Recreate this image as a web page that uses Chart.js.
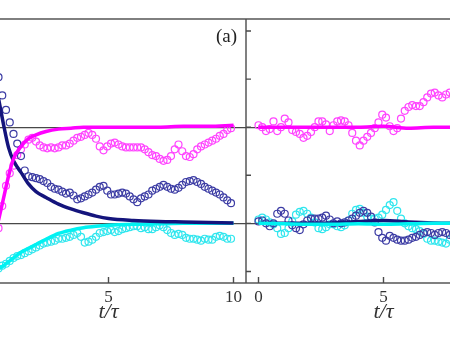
<!DOCTYPE html>
<html>
<head>
<meta charset="utf-8">
<script src="https://cdn.jsdelivr.net/npm/chart.js@4/dist/chart.umd.min.js"></script>
<style>
  html, body { margin: 0; padding: 0; background: #fff; }
  body { position: relative; width: 450px; height: 340px; overflow: hidden; }
  canvas { position: absolute; top: 0; }
</style>
</head>
<body>
<canvas id="panelLeft" width="275" height="340" style="left:-29px"></canvas>
<canvas id="panelRight" width="275" height="340" style="left:246px"></canvas>
<script>
// axis ticks / reference lines
const xTickVals = [0, 5, 10];
const yTickVals = [-0.5, 0, 0.5, 1, 1.5, 2];
const refLines  = [0, 1];

// left panel (a): sample times and measured points
const tLeft = [0.6, 0.75, 0.9, 1.05, 1.2, 1.35, 1.5, 1.65, 1.8, 1.95,
  2.1, 2.25, 2.4, 2.55, 2.7, 2.85, 3.0, 3.15, 3.3, 3.45,
  3.6, 3.75, 3.9, 4.05, 4.2, 4.35, 4.5, 4.65, 4.8, 4.95,
  5.1, 5.25, 5.4, 5.55, 5.7, 5.85, 6.0, 6.15, 6.3, 6.45,
  6.6, 6.75, 6.9, 7.05, 7.2, 7.35, 7.5, 7.65, 7.8, 7.95,
  8.1, 8.25, 8.4, 8.55, 8.7, 8.85, 9.0, 9.15, 9.3, 9.45,
  9.6, 9.75, 9.9];
const leftNavyPts = [1.52, 1.33, 1.18, 1.05, 0.93, 0.83, 0.70, 0.55, 0.49, 0.48,
  0.47, 0.46, 0.44, 0.42, 0.38, 0.36, 0.35, 0.33, 0.31, 0.32,
  0.29, 0.25, 0.26, 0.28, 0.30, 0.32, 0.35, 0.38, 0.39, 0.34,
  0.30, 0.30, 0.31, 0.32, 0.31, 0.28, 0.25, 0.22, 0.26, 0.28,
  0.30, 0.34, 0.36, 0.38, 0.40, 0.38, 0.36, 0.35, 0.37, 0.40,
  0.43, 0.44, 0.45, 0.43, 0.41, 0.38, 0.36, 0.34, 0.32, 0.30,
  0.27, 0.24, 0.21];
const leftMagentaPts = [-0.05, 0.18, 0.39, 0.52, 0.60, 0.71, 0.77, 0.82, 0.87, 0.89,
  0.85, 0.81, 0.79, 0.78, 0.79, 0.78, 0.79, 0.81, 0.81, 0.83,
  0.86, 0.89, 0.90, 0.92, 0.94, 0.92, 0.88, 0.80, 0.76, 0.80,
  0.83, 0.84, 0.82, 0.80, 0.79, 0.79, 0.79, 0.79, 0.79, 0.77,
  0.74, 0.71, 0.70, 0.67, 0.65, 0.66, 0.70, 0.77, 0.82, 0.75,
  0.70, 0.69, 0.72, 0.77, 0.80, 0.82, 0.84, 0.86, 0.88, 0.91,
  0.93, 0.97, 0.99];
const leftCyanPts = [-0.47, -0.44, -0.42, -0.39, -0.36, -0.34, -0.33, -0.31, -0.29, -0.27,
  -0.25, -0.23, -0.21, -0.20, -0.19, -0.18, -0.16, -0.16, -0.15, -0.14,
  -0.12, -0.10, -0.14, -0.20, -0.19, -0.17, -0.14, -0.10, -0.09, -0.08,
  -0.07, -0.09, -0.08, -0.06, -0.05, -0.04, -0.03, -0.03, -0.05, -0.04,
  -0.06, -0.06, -0.04, -0.02, -0.04, -0.07, -0.10, -0.12, -0.11, -0.12,
  -0.15, -0.16, -0.16, -0.17, -0.18, -0.16, -0.17, -0.17, -0.14, -0.13,
  -0.14, -0.16, -0.16];

// left panel: model curves
const tLeftLine = [0.6, 0.8, 1.0, 1.2, 1.5, 1.8, 2.1, 2.5, 3, 3.5, 4, 4.5, 5, 6, 7, 8, 9, 10];
const leftNavyLine    = [1.30, 1.03, 0.79, 0.65, 0.53, 0.41, 0.33, 0.27, 0.20, 0.15, 0.11, 0.075, 0.05, 0.03, 0.02, 0.015, 0.01, 0.005];
const leftMagentaLine = [0.03, 0.26, 0.49, 0.67, 0.80, 0.88, 0.92, 0.955, 0.98, 0.99, 1.0, 1.0, 1.0, 1.0, 1.0, 1.01, 1.01, 1.02];
const leftCyanLine    = [-0.47, -0.44, -0.40, -0.36, -0.30, -0.26, -0.22, -0.165, -0.105, -0.07, -0.045, -0.03, -0.02, -0.01, -0.005, 0, 0, 0];

// right panel
const tRight = [0, 0.15, 0.3, 0.45, 0.6, 0.75, 0.9, 1.05, 1.2, 1.35,
  1.5, 1.65, 1.8, 1.95, 2.1, 2.25, 2.4, 2.55, 2.7, 2.85,
  3.0, 3.15, 3.3, 3.45, 3.6, 3.75, 3.9, 4.05, 4.2, 4.35,
  4.5, 4.65, 4.8, 4.95, 5.1, 5.25, 5.4, 5.55, 5.7, 5.85,
  6.0, 6.15, 6.3, 6.45, 6.6, 6.75, 6.9, 7.05, 7.2, 7.35,
  7.5, 7.65, 7.8];
const rightMagentaPts = [1.02, 1.00, 0.96, 0.98, 1.06, 0.96, 1.00, 1.09, 1.05, 0.97,
  0.95, 0.93, 0.89, 0.91, 0.95, 1.00, 1.06, 1.06, 1.03, 0.96,
  1.02, 1.06, 1.07, 1.06, 1.02, 0.94, 0.86, 0.81, 0.86, 0.90,
  0.94, 0.99, 1.05, 1.13, 1.10, 1.01, 0.96, 0.99, 1.09, 1.17,
  1.21, 1.23, 1.22, 1.22, 1.26, 1.31, 1.35, 1.36, 1.33, 1.31,
  1.34, 1.36, 1.32];
const rightNavyPts = [0.02, 0.03, 0.00, -0.03, 0.00, 0.10, 0.13, 0.10, 0.03, -0.02,
  -0.05, -0.07, -0.01, 0.03, 0.05, 0.05, 0.05, 0.06, 0.08, 0.04,
  0.00, 0.02, 0.00, 0.01, 0.03, 0.05, 0.08, 0.11, 0.13, 0.11,
  0.07, 0.01, -0.09, -0.15, -0.18, -0.13, -0.15, -0.17, -0.18, -0.18,
  -0.17, -0.15, -0.14, -0.12, -0.10, -0.09, -0.10, -0.12, -0.10, -0.09,
  -0.10, -0.12, -0.13];
const rightCyanPts = [0.04, 0.06, 0.04, 0.01, -0.01, -0.05, -0.11, -0.10, -0.05, 0.02,
  0.09, 0.12, 0.13, 0.10, 0.06, 0.01, -0.05, -0.06, -0.04, -0.01,
  -0.01, -0.03, -0.04, -0.02, 0.03, 0.10, 0.14, 0.15, 0.11, 0.07,
  0.05, 0.05, 0.06, 0.09, 0.14, 0.19, 0.22, 0.13, 0.05, 0.00,
  -0.03, -0.05, -0.06, -0.08, -0.11, -0.16, -0.18, -0.18, -0.19, -0.20,
  -0.21, -0.17, -0.14];

const tRightLine = [0, 1, 2, 3, 4, 5, 6, 7, 8, 9, 10];
const rightMagentaLine = [1.0, 1.0, 1.0, 1.0, 1.0, 1.01, 0.99, 1.0, 1.0, 1.0, 1.0];
const rightNavyLine    = [0, 0, 0, 0.005, 0.02, 0.03, 0.015, 0.005, 0, 0, 0];
const rightCyanLine    = [0, -0.005, -0.01, -0.01, -0.005, -0.01, -0.005, 0, 0, 0, 0];

const NAVY = '#14147c', NAVY_PT = '#3c3ca4';
const MAG = '#ff00ff', MAG_PT = '#ff44ff';
const CYAN = '#00f2f2', CYAN_PT = '#30e6ee';

const pts = (ts, vs) => ts.map((t, i) => ({x: t, y: vs[i]}));

function circles(ts, vs, color) {
  return {
    data: pts(ts, vs),
    showLine: false,
    pointStyle: 'circle',
    pointRadius: 3.5,
    pointBorderWidth: 1.2,
    pointBorderColor: color,
    pointBackgroundColor: 'rgba(255,255,255,0)',
    order: 2
  };
}

function curve(ts, vs, color) {
  return {
    data: pts(ts, vs),
    borderColor: color,
    borderWidth: 3.5,
    pointRadius: 0,
    cubicInterpolationMode: 'monotone',
    fill: false,
    order: 1
  };
}

// frame, inward ticks and panel label
const framePlugin = {
  id: 'frame',
  afterDraw(chart, args, opts) {
    const {ctx, chartArea: a} = chart;
    const x = chart.scales.x, y = chart.scales.y;
    ctx.save();
    ctx.strokeStyle = '#4a4a4a';
    ctx.lineWidth = 1.4;
    ctx.strokeRect(a.left, a.top, a.right - a.left, a.bottom - a.top);
    ctx.beginPath();
    xTickVals.forEach(v => {
      const px = x.getPixelForValue(v);
      ctx.moveTo(px, a.bottom);
      ctx.lineTo(px, a.bottom - 6);
    });
    if (opts.yTicks) {
      yTickVals.forEach(v => {
        const py = y.getPixelForValue(v);
        ctx.moveTo(a.left, py);
        ctx.lineTo(a.left + 5, py);
      });
    }
    ctx.stroke();
    if (opts.label) {
      ctx.font = '19px "Liberation Serif"';
      ctx.fillStyle = '#222';
      ctx.textAlign = 'right';
      ctx.textBaseline = 'alphabetic';
      ctx.fillText(opts.label, a.right - 9, a.top + 23);
    }
    ctx.restore();
  }
};

function makePanel(id, datasets, frameOpts) {
  return new Chart(document.getElementById(id), {
    type: 'line',
    data: { datasets },
    plugins: [framePlugin],
    options: {
      responsive: false,
      animation: false,
      layout: { autoPadding: false, padding: { top: 19, left: 0, right: 0, bottom: 0 } },
      plugins: {
        legend: { display: false },
        tooltip: { enabled: false },
        frame: frameOpts
      },
      scales: {
        x: {
          type: 'linear',
          min: -0.5, max: 10.5,
          afterBuildTicks: s => { s.ticks = xTickVals.map(v => ({value: v})); },
          afterFit: s => { s.height = 57; s.paddingLeft = 0; s.paddingRight = 0; },
          grid: { display: false, drawTicks: false },
          border: { display: false },
          ticks: {
            color: '#333',
            padding: 4,
            font: { family: '"Liberation Serif", serif', size: 17 }
          },
          title: {
            display: true,
            text: 't/τ',
            color: '#333',
            padding: { top: 0, bottom: 15 },
            font: { family: '"Liberation Serif", serif', size: 22, style: 'italic' }
          }
        },
        y: {
          type: 'linear',
          min: -0.62, max: 2.125,
          z: 1,
          afterBuildTicks: s => { s.ticks = yTickVals.map(v => ({value: v})); },
          afterFit: s => { s.width = 0; },
          ticks: { display: false },
          border: { display: false },
          grid: {
            drawTicks: false,
            lineWidth: 1.3,
            color: c => refLines.includes(c.tick.value) ? 'rgba(40,40,40,0.85)' : 'rgba(0,0,0,0)'
          }
        }
      }
    }
  });
}

makePanel('panelLeft', [
  curve(tLeftLine, leftMagentaLine, MAG),
  curve(tLeftLine, leftNavyLine, NAVY),
  curve(tLeftLine, leftCyanLine, CYAN),
  circles(tLeft, leftNavyPts, NAVY_PT),
  circles(tLeft, leftMagentaPts, MAG_PT),
  circles(tLeft, leftCyanPts, CYAN_PT)
], { label: '(a)', yTicks: false });

makePanel('panelRight', [
  curve(tRightLine, rightMagentaLine, MAG),
  curve(tRightLine, rightCyanLine, CYAN),
  curve(tRightLine, rightNavyLine, NAVY),
  circles(tRight, rightNavyPts, NAVY_PT),
  circles(tRight, rightMagentaPts, MAG_PT),
  circles(tRight, rightCyanPts, CYAN_PT)
], { yTicks: true });
</script>
</body>
</html>
